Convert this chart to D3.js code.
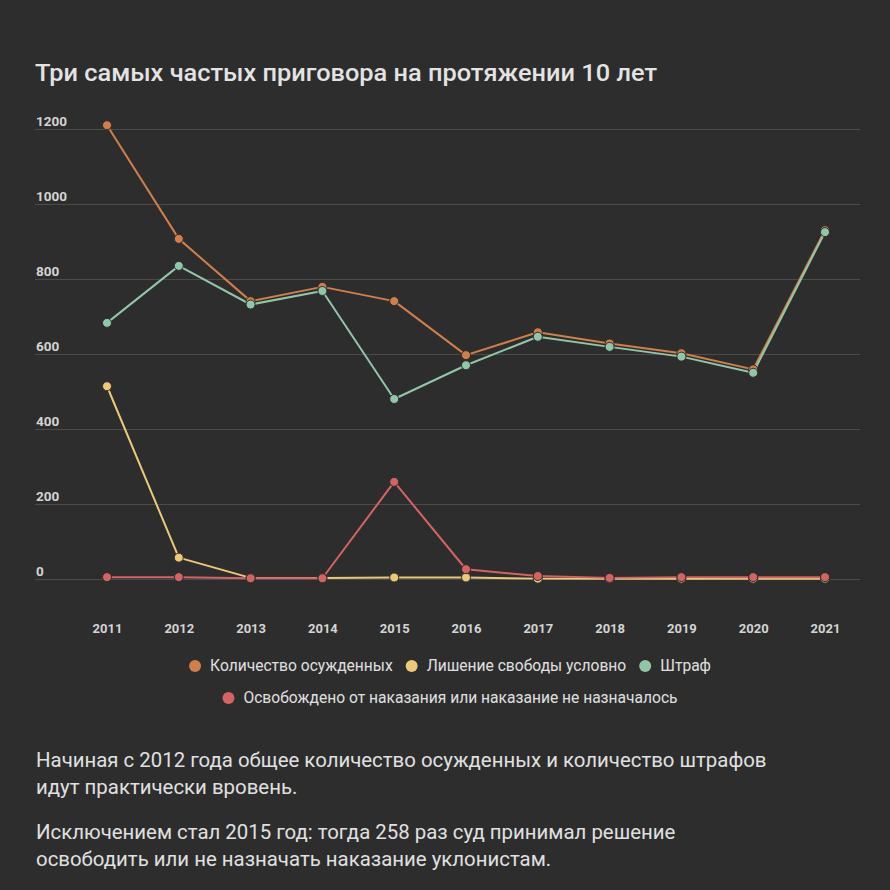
<!DOCTYPE html>
<html><head><meta charset="utf-8">
<script src="https://cdn.jsdelivr.net/npm/d3@7"></script>
<style>
html,body{margin:0;padding:0;background:#2d2d2d;}
svg{display:block;}
</style></head>
<body>
<script>
const years = [2011,2012,2013,2014,2015,2016,2017,2018,2019,2020,2021];
const convicted = [1210,907,741,779,741,597,658,628,602,559,930];
const suspended = [514,57,3,3,4,4,1,1,1,1,1];
const fine = [683,835,732,768,480,570,646,619,593,550,925];
const released = [5,5,2,2,259,26,8,3,5,5,5];
const yTicks = [0,200,400,600,800,1000,1200];
const seriesNames = ["Количество осужденных","Лишение свободы условно","Штраф","Освобождено от наказания или наказание не назначалось"];
const seriesColors = ["#cf7f4c","#ecc97a","#92c6a9","#d36464"];
const title = "Три самых частых приговора на протяжении 10 лет";
const notes = ["Начиная с 2012 года общее количество осужденных и количество штрафов","идут практически вровень.","Исключением стал 2015 год: тогда 258 раз суд принимал решение","освободить или не назначать наказание уклонистам."];

const W=890,H=890;
const svg=d3.select("body").append("svg").attr("width",W).attr("height",H);
svg.append("rect").attr("width",W).attr("height",H).attr("fill","#2d2d2d");

const fontMain="Roboto, 'Open Sans', sans-serif";
svg.append("text").attr("x",35).attr("y",81).text(title)
  .attr("fill","#e3e3e3").attr("font-family",fontMain).attr("font-size",23).attr("font-weight",500)
  .attr("textLength",622).attr("lengthAdjust","spacingAndGlyphs");

const x=d3.scalePoint().domain(years).range([107,825]);
const y=d3.scaleLinear().domain([0,1200]).range([579,129]);

// grid
const gAxis=svg.append("g").attr("transform","translate(35,0)")
  .call(d3.axisRight(y).tickValues(yTicks).tickSize(825).tickFormat(d=>d));
gAxis.select(".domain").remove();
gAxis.selectAll(".tick line").attr("stroke","#4b4b4b").attr("stroke-width",1);
gAxis.selectAll(".tick text").attr("x",1).attr("dy",-4).attr("text-anchor","start")
  .attr("fill","#d4d4d4").attr("font-family",fontMain).attr("font-size",13.5).attr("font-weight",700);

const gx=svg.append("g").attr("transform","translate(0,629)")
  .call(d3.axisBottom(x).tickSize(0).tickFormat(d=>d));
gx.select(".domain").remove();
gx.selectAll(".tick text").attr("dy","0.32em").attr("y",0)
  .attr("fill","#d4d4d4").attr("font-family",fontMain).attr("font-size",13).attr("font-weight",700);

const data=[convicted,suspended,fine,released];
const line=d3.line().x((d,i)=>x(years[i])).y(d=>y(d));
data.forEach((vals,k)=>{
  svg.append("path").datum(vals).attr("d",line).attr("fill","none")
    .attr("stroke",seriesColors[k]).attr("stroke-width",2).attr("stroke-linejoin","round");
});
data.forEach((vals,k)=>{
  svg.append("g").selectAll("circle").data(vals).join("circle")
    .attr("cx",(d,i)=>x(years[i])).attr("cy",d=>y(d)).attr("r",4.5)
    .attr("fill",seriesColors[k]).attr("stroke","#2d2d2d").attr("stroke-width",1);
});

// legend (rows centered)
const legRows=[[0,1,2],[3]];
const legY=[666,698];
const legCenter=450;
legRows.forEach((row,ri)=>{
  const g=svg.append("g");
  let cx=0;
  row.forEach((k,j)=>{
    if(j>0) cx+=13;
    g.append("circle").attr("cx",cx+6).attr("cy",legY[ri]).attr("r",6).attr("fill",seriesColors[k]);
    const t=g.append("text").attr("x",cx+21).attr("y",legY[ri]).attr("dy","0.35em").text(seriesNames[k])
      .attr("fill","#e0e0e0").attr("font-family",fontMain).attr("font-size",15.6);
    cx+=21+t.node().getComputedTextLength();
  });
  g.attr("transform",`translate(${legCenter-cx/2},0)`);
});

const noteY=[767,794,839,866];
notes.forEach((t,i)=>{
  svg.append("text").attr("x",36).attr("y",noteY[i]).text(t)
    .attr("fill","#e0e0e0").attr("font-family",fontMain).attr("font-size",20.4);
});
</script>
</body></html>
